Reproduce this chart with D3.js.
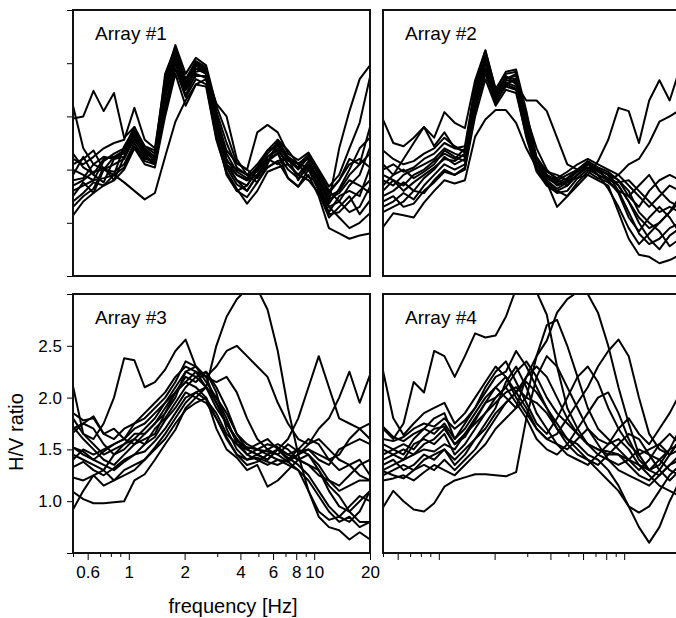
<!DOCTYPE html>
<html><head><meta charset="utf-8">
<script src="https://cdn.jsdelivr.net/npm/d3@7"></script>
<style>
body{margin:0;background:#fff;}
svg{display:block;}
text{font-family:"Liberation Sans",Arial,Helvetica,sans-serif;fill:#000;}
</style>
</head><body>
<svg id="chart" width="676" height="618"></svg>
<script>
// frequencies (Hz) at which the H/V curves are sampled
const freqs = [0.5,0.568,0.645,0.732,0.832,0.944,1.072,1.218,1.383,1.570,1.783,2.025,2.300,2.612,2.966,3.368,3.824,4.343,4.932,5.601,6.360,7.222,8.202,9.314,10.58,12.01,13.64,15.49,17.59,20.0];

const array1 = [
 [1.98,2.00,2.24,2.05,2.22,1.80,1.90,1.72,1.68,2.30,2.58,2.35,2.48,2.45,2.05,1.75,1.52,1.45,1.55,1.68,1.72,1.60,1.50,1.62,1.45,1.30,1.40,1.60,1.55,1.65],
 [2.10,1.70,1.55,1.50,1.62,1.65,1.85,1.70,1.62,2.20,2.62,2.30,2.50,2.42,1.95,1.55,1.40,1.35,1.50,1.62,1.68,1.55,1.45,1.58,1.38,1.20,1.70,2.05,2.35,2.48],
 [1.60,1.55,1.62,1.70,1.75,1.78,2.08,1.78,1.70,2.35,2.67,2.40,2.55,2.48,2.10,1.84,1.56,1.50,1.85,1.92,1.85,1.65,1.59,1.66,1.50,1.34,1.45,1.70,1.94,2.37],
 [1.50,1.45,1.40,1.58,1.65,1.70,1.90,1.65,1.60,2.28,2.55,2.30,2.45,2.42,2.12,2.00,1.60,1.45,1.48,1.62,1.70,1.55,1.45,1.55,1.42,1.25,1.30,1.45,1.55,1.90],
 [1.35,1.40,1.48,1.50,1.55,1.60,1.80,1.62,1.55,2.18,2.60,2.25,2.45,2.40,1.90,1.55,1.45,1.40,1.45,1.52,1.58,1.62,1.40,1.55,1.32,1.15,1.20,1.35,1.45,1.71],
 [1.25,1.38,1.28,1.50,1.48,1.55,1.75,1.60,1.58,2.10,2.50,2.20,2.40,2.36,1.85,1.45,1.30,1.35,1.50,1.58,1.66,1.42,1.34,1.50,1.30,1.10,1.25,1.30,1.25,1.52],
 [1.45,1.62,1.45,1.38,1.60,1.62,1.82,1.66,1.62,2.25,2.62,2.35,2.52,2.46,2.00,1.60,1.45,1.40,1.52,1.65,1.75,1.60,1.52,1.62,1.48,1.30,1.20,1.10,1.15,1.34],
 [1.20,1.28,1.38,1.35,1.45,1.52,1.72,1.58,1.55,2.05,2.45,2.18,2.35,2.30,1.80,1.48,1.32,1.18,1.30,1.48,1.52,1.55,1.45,1.40,1.28,1.05,1.15,1.25,1.08,1.21],
 [1.30,1.35,1.40,1.42,1.45,1.38,1.30,1.22,1.28,1.62,1.95,2.15,2.30,2.35,1.95,1.55,1.40,1.30,1.45,1.58,1.65,1.50,1.42,1.52,1.35,1.15,1.05,0.95,1.00,1.09],
 [1.07,1.20,1.28,1.35,1.40,1.50,1.70,1.55,1.52,2.00,2.40,2.10,2.30,2.28,1.78,1.47,1.30,1.24,1.38,1.52,1.58,1.42,1.34,1.45,1.25,0.95,0.90,0.85,0.88,0.90],
 [1.55,1.60,1.68,1.50,1.45,1.72,1.88,1.72,1.65,2.40,2.65,2.32,2.50,2.45,2.02,1.65,1.48,1.42,1.52,1.68,1.78,1.62,1.55,1.64,1.45,1.28,1.40,1.55,1.60,1.52],
 [1.40,1.42,1.55,1.62,1.60,1.66,1.84,1.68,1.58,2.30,2.58,2.28,2.42,2.44,1.98,1.58,1.50,1.45,1.38,1.55,1.78,1.68,1.55,1.52,1.40,1.22,1.28,1.40,1.35,1.28],
 [1.15,1.25,1.32,1.52,1.40,1.62,1.78,1.64,1.56,2.18,2.52,2.25,2.38,2.38,1.92,1.52,1.36,1.30,1.44,1.60,1.55,1.62,1.55,1.43,1.38,1.08,1.10,1.20,1.30,1.40],
 [1.65,1.52,1.46,1.60,1.62,1.68,1.86,1.68,1.62,2.32,2.60,2.28,2.48,2.40,1.98,1.68,1.56,1.50,1.42,1.56,1.74,1.58,1.56,1.60,1.40,1.18,1.32,1.50,1.70,1.80]
];

const array2 = [
 [1.97,1.75,1.72,1.80,1.90,1.72,1.85,1.70,1.68,2.25,2.60,2.20,2.35,2.40,2.00,1.70,1.50,1.40,1.35,1.45,1.55,1.50,1.45,1.35,1.20,1.05,0.95,1.00,1.10,1.20],
 [1.55,1.45,1.60,1.75,1.90,1.80,2.04,1.94,1.89,2.34,2.62,2.25,2.42,2.44,2.05,1.60,1.45,1.40,1.45,1.50,1.58,1.52,1.48,1.40,1.25,1.15,1.30,1.40,1.45,1.40],
 [0.96,1.09,1.07,1.05,1.19,1.30,1.40,1.37,1.40,1.81,1.97,2.06,2.06,1.94,1.70,1.52,1.35,1.30,1.25,1.35,1.45,1.40,1.35,1.10,0.85,0.70,0.68,0.62,0.65,0.70],
 [1.40,1.35,1.45,1.50,1.55,1.60,1.70,1.65,1.62,2.20,2.55,2.15,2.30,2.35,1.95,1.60,1.48,1.45,1.40,1.42,1.45,1.58,1.78,2.08,2.05,1.75,2.15,2.34,2.15,2.45],
 [1.30,1.40,1.35,1.45,1.50,1.58,1.65,1.60,1.70,2.15,2.50,2.18,2.38,2.30,2.15,2.15,2.05,1.80,1.55,1.50,1.52,1.45,1.40,1.45,1.55,1.60,1.75,1.95,2.00,2.06],
 [1.50,1.55,1.48,1.52,1.60,1.65,1.75,1.70,1.72,2.28,2.58,2.22,2.36,2.38,1.95,1.58,1.42,1.36,1.40,1.48,1.55,1.50,1.45,1.30,1.10,0.90,0.80,0.85,0.95,1.00],
 [1.25,1.30,1.38,1.30,1.42,1.50,1.62,1.55,1.60,2.12,2.45,2.18,2.32,2.28,1.85,1.50,1.38,1.30,1.35,1.45,1.55,1.48,1.42,1.35,1.20,1.00,0.85,0.75,0.88,0.95],
 [1.15,1.20,1.28,1.22,1.35,1.45,1.55,1.50,1.55,2.08,2.40,2.15,2.28,2.25,1.80,1.48,1.35,1.28,1.30,1.42,1.50,1.45,1.40,1.28,1.05,0.92,1.05,1.15,1.05,0.90],
 [1.68,1.60,1.55,1.58,1.65,1.70,1.80,1.72,1.66,2.30,2.62,2.26,2.40,2.42,1.98,1.62,1.48,1.42,1.48,1.55,1.60,1.55,1.50,1.45,1.35,1.25,1.15,1.25,1.35,1.30],
 [1.10,1.15,1.20,1.30,1.28,1.40,1.50,1.45,1.50,2.00,2.35,2.10,2.25,2.22,1.82,1.55,1.40,1.32,1.38,1.50,1.56,1.50,1.40,1.38,1.40,1.30,1.20,1.10,1.15,1.10],
 [1.35,1.45,1.50,1.42,1.48,1.55,1.68,1.62,1.58,2.18,2.52,2.20,2.34,2.32,1.90,1.55,1.44,1.38,1.42,1.50,1.56,1.45,1.32,1.15,0.95,0.80,0.90,1.00,1.10,1.25],
 [1.45,1.40,1.30,1.38,1.45,1.52,1.60,1.58,1.65,2.22,2.55,2.24,2.36,2.35,1.92,1.60,1.45,1.35,1.38,1.45,1.52,1.50,1.46,1.40,1.30,1.10,1.00,0.92,0.78,0.85],
 [1.20,1.25,1.15,1.18,1.30,1.38,1.48,1.45,1.52,2.05,2.42,2.12,2.30,2.26,1.88,1.52,1.38,1.15,1.25,1.38,1.48,1.42,1.38,1.30,1.25,1.35,1.45,1.30,1.20,1.15]
];

const array3 = [
 [1.80,1.65,1.60,1.75,2.00,2.38,2.36,2.10,2.15,2.27,2.45,2.56,2.30,2.20,2.15,2.20,2.05,1.80,1.60,1.50,1.45,1.55,1.48,1.50,1.45,1.40,1.30,1.35,1.40,1.25],
 [1.52,1.45,1.40,1.48,1.55,1.60,1.70,1.75,1.85,1.95,2.05,2.15,2.25,2.10,2.50,2.78,2.95,3.05,3.05,2.85,2.45,1.90,1.45,1.10,0.85,0.75,0.72,0.63,0.70,0.63],
 [1.70,1.75,1.82,1.65,1.70,1.60,1.75,1.85,1.95,2.05,2.20,2.30,2.25,2.20,2.30,2.45,2.50,2.40,2.30,2.20,1.95,1.75,1.60,1.55,1.60,1.50,1.40,1.35,1.25,1.20],
 [1.09,1.02,0.98,0.98,0.99,1.00,1.20,1.26,1.40,1.55,1.69,1.90,2.00,2.10,1.90,1.75,1.60,1.50,1.45,1.40,1.50,1.45,1.40,1.35,1.30,1.10,0.95,0.90,1.00,1.10],
 [1.45,1.40,1.35,1.30,1.45,1.55,1.60,1.70,1.80,1.95,2.10,2.25,2.20,2.10,2.00,1.85,1.65,1.50,1.45,1.40,1.50,1.60,1.80,2.10,2.40,2.10,1.80,1.75,1.70,1.60],
 [2.11,1.65,1.55,1.45,1.50,1.55,1.65,1.65,1.75,1.90,2.05,2.20,2.15,2.25,2.10,1.90,1.65,1.55,1.50,1.45,1.50,1.40,1.45,1.55,1.70,1.80,2.00,2.25,1.95,2.22],
 [1.85,1.78,1.80,1.65,1.60,1.70,1.75,1.80,1.90,2.00,2.15,2.35,2.30,2.20,1.95,1.75,1.60,1.45,1.50,1.55,1.52,1.45,1.50,1.60,1.55,1.40,1.45,1.60,1.70,1.75],
 [1.72,1.60,1.50,1.40,1.35,1.45,1.55,1.60,1.65,1.85,2.00,2.25,2.30,2.15,2.00,1.80,1.55,1.45,1.40,1.35,1.40,1.38,1.30,1.10,0.90,0.82,0.85,0.95,1.05,1.00],
 [1.66,1.75,1.70,1.55,1.45,1.50,1.60,1.55,1.70,1.80,1.95,2.10,2.20,2.25,2.05,1.70,1.50,1.40,1.45,1.50,1.55,1.50,1.40,1.45,1.30,1.15,1.05,0.90,0.80,0.80],
 [1.52,1.48,1.40,1.35,1.30,1.38,1.45,1.55,1.62,1.78,1.90,2.05,2.00,1.95,1.80,1.60,1.45,1.40,1.42,1.38,1.35,1.40,1.50,1.45,1.35,1.20,1.15,1.25,1.35,1.40],
 [1.33,1.38,1.30,1.25,1.32,1.40,1.45,1.48,1.58,1.70,1.85,2.00,2.05,1.98,1.85,1.65,1.55,1.50,1.55,1.60,1.50,1.42,1.35,1.25,1.10,0.95,0.85,0.80,0.90,1.10],
 [1.23,1.20,1.25,1.15,1.20,1.30,1.35,1.40,1.52,1.65,1.80,1.95,2.05,2.10,1.95,1.75,1.58,1.52,1.50,1.48,1.45,1.38,1.45,1.50,1.40,1.35,1.50,1.55,1.60,1.55],
 [0.92,1.10,1.25,1.30,1.20,1.25,1.30,1.40,1.50,1.60,1.75,1.88,1.95,2.00,1.80,1.62,1.45,1.35,1.38,1.45,1.40,1.35,1.30,1.20,1.05,0.90,0.80,0.85,0.75,0.80],
 [1.40,1.50,1.45,1.50,1.55,1.60,1.55,1.65,1.75,1.85,2.05,2.15,2.10,2.00,1.70,1.50,1.42,1.30,1.35,1.14,1.20,1.30,1.40,1.35,1.25,1.20,1.10,1.15,1.20,1.20]
];

const array4 = [
 [1.70,1.60,1.75,2.15,2.05,2.45,2.40,2.20,2.40,2.62,2.58,2.60,2.78,3.05,3.05,3.02,2.80,2.30,1.90,1.70,1.55,1.50,1.45,1.45,1.40,1.35,1.30,1.40,1.50,1.55],
 [1.30,1.35,1.40,1.45,1.50,1.48,1.55,1.50,1.65,1.80,1.95,2.10,2.00,1.90,2.20,2.40,2.55,2.82,2.95,3.02,3.00,2.82,2.50,2.10,1.75,1.45,1.30,1.25,1.35,1.40],
 [1.55,1.50,1.45,1.60,1.70,1.65,1.75,1.60,1.70,1.85,2.00,2.10,2.20,2.00,1.85,1.70,1.60,1.65,1.80,1.95,2.10,2.30,2.45,2.56,2.40,2.00,1.65,1.50,1.45,1.60],
 [0.94,1.10,1.00,0.92,0.90,0.98,1.14,1.20,1.23,1.26,1.26,1.25,1.24,1.28,1.80,2.20,2.40,2.30,2.10,1.90,1.70,1.55,1.40,1.30,1.25,1.20,1.15,1.25,1.35,1.45],
 [1.40,1.45,1.50,1.45,1.55,1.60,1.70,1.55,1.65,1.75,1.85,1.95,2.05,2.10,2.00,1.95,1.85,1.70,1.60,1.50,1.40,1.30,1.20,1.10,0.95,0.75,0.60,0.75,1.00,1.20],
 [1.25,1.30,1.35,1.30,1.40,1.45,1.50,1.40,1.50,1.60,1.70,1.85,1.95,2.05,2.15,2.05,1.90,1.75,1.60,1.55,1.45,1.40,1.30,1.15,0.95,0.89,0.95,1.10,1.25,1.35],
 [2.26,1.80,1.64,1.75,1.85,1.90,1.95,1.75,1.85,2.00,2.15,2.30,2.20,2.05,1.90,1.70,1.60,1.55,1.50,1.60,1.70,1.60,1.55,1.70,1.80,1.65,1.55,1.70,1.85,2.04],
 [1.72,1.62,1.58,1.65,1.70,1.80,1.85,1.60,1.75,1.90,2.10,2.25,2.35,2.15,1.95,1.75,1.65,1.80,2.00,2.20,2.30,2.15,1.90,1.70,1.55,1.45,1.50,1.55,1.45,1.59],
 [1.50,1.45,1.40,1.55,1.60,1.55,1.65,1.45,1.55,1.70,1.85,2.00,2.10,2.25,2.35,2.20,2.00,1.85,1.75,1.65,1.55,1.45,1.40,1.35,1.40,1.50,1.45,1.40,1.30,1.25],
 [1.35,1.40,1.30,1.35,1.45,1.40,1.50,1.35,1.45,1.60,1.75,1.90,2.15,2.30,2.10,1.85,1.70,1.55,1.45,1.40,1.35,1.45,1.55,1.60,1.50,1.35,1.25,1.15,1.10,1.05],
 [1.60,1.58,1.62,1.70,1.75,1.72,1.80,1.70,1.78,1.90,2.05,2.20,2.25,2.45,2.30,2.10,1.90,1.70,1.55,1.45,1.40,1.35,1.45,1.55,1.65,1.60,1.45,1.30,1.20,1.30],
 [1.29,1.25,1.22,1.30,1.35,1.30,1.40,1.30,1.40,1.50,1.65,1.80,1.95,2.05,2.20,2.30,2.20,2.00,1.80,1.65,1.55,1.50,1.48,1.45,1.35,1.25,1.20,1.30,1.45,1.50],
 [1.45,1.50,1.55,1.50,1.62,1.70,1.72,1.55,1.62,1.78,1.95,2.00,2.10,1.95,1.80,1.60,1.50,1.45,1.55,1.70,1.85,2.00,2.05,1.85,1.60,1.40,1.30,1.35,1.50,1.70],
 [1.20,1.22,1.25,1.20,1.28,1.35,1.30,1.25,1.35,1.45,1.55,1.70,1.80,1.90,2.00,2.40,2.70,2.75,2.50,2.20,1.90,1.70,1.60,1.50,1.40,1.30,1.40,1.55,1.65,1.55]
];

const panelTitles = ["Array #1","Array #2","Array #3","Array #4"];
const yTickValues = [0.5,1.0,1.5,2.0,2.5,3.0];
const yTickLabels = ["","1.0","1.5","2.0","2.5",""];
const xMajorTicks = [0.6,1,2,4,6,8,10,20];
const xMinorTicks = [0.5,0.7,0.8,0.9,3,5,7,9];
const xTickLabels = ["0.6","1","2","4","6","8","10","20"];
const xDomain = [0.5,20];
const yDomain = [0.5,3.0];

const svg = d3.select("#chart");
const W = 297;
const panels = [
  {data: array1, title: panelTitles[0], left: 73,  top: 10,  h: 266, yTicks: true,  yLabels: false, xTicks: false, xLabels: false},
  {data: array2, title: panelTitles[1], left: 383, top: 10,  h: 266, yTicks: false, yLabels: false, xTicks: false, xLabels: false},
  {data: array3, title: panelTitles[2], left: 73,  top: 294, h: 259, yTicks: true,  yLabels: true,  xTicks: true,  xLabels: true},
  {data: array4, title: panelTitles[3], left: 383, top: 294, h: 259, yTicks: false, yLabels: false, xTicks: true,  xLabels: false}
];

const x = d3.scaleLog().domain(xDomain).range([0, W]);

panels.forEach((p, k) => {
  const y = d3.scaleLinear().domain(yDomain).range([p.h, 0]);
  const g = svg.append("g").attr("transform", `translate(${p.left},${p.top})`);
  const clipId = "clip" + k;
  g.append("clipPath").attr("id", clipId).append("rect")
    .attr("x", 0).attr("y", 0).attr("width", W).attr("height", p.h);

  const line = d3.line().x((d, i) => x(freqs[i])).y(d => y(d));
  g.append("g").attr("clip-path", `url(#${clipId})`)
    .selectAll("path").data(p.data).join("path")
    .attr("d", line)
    .attr("fill", "none")
    .attr("stroke", "#000")
    .attr("stroke-width", 2)
    .attr("stroke-linejoin", "round");

  if (p.yTicks) {
    const ax = g.append("g").call(
      d3.axisLeft(y).tickValues(yTickValues).tickSize(6).tickPadding(5)
        .tickFormat((d, i) => p.yLabels ? yTickLabels[i] : ""));
    ax.select(".domain").remove();
    ax.selectAll("line").attr("stroke", "#000").attr("stroke-width", 1);
    ax.selectAll("text").attr("font-size", 17).attr("font-family", "Liberation Sans, Arial, sans-serif");
  }
  if (p.xTicks) {
    const axMaj = g.append("g").attr("transform", `translate(0,${p.h})`).call(
      d3.axisBottom(x).tickValues(xMajorTicks).tickSize(7).tickPadding(6)
        .tickFormat((d, i) => p.xLabels ? xTickLabels[i] : ""));
    axMaj.select(".domain").remove();
    axMaj.selectAll("line").attr("stroke", "#000").attr("stroke-width", 1);
    axMaj.selectAll("text").attr("font-size", 17).attr("font-family", "Liberation Sans, Arial, sans-serif");
    const axMin = g.append("g").attr("transform", `translate(0,${p.h})`).call(
      d3.axisBottom(x).tickValues(xMinorTicks).tickSize(4).tickFormat(() => ""));
    axMin.select(".domain").remove();
    axMin.selectAll("line").attr("stroke", "#000").attr("stroke-width", 1);
  }

  g.append("rect").attr("x", 0).attr("y", 0).attr("width", W).attr("height", p.h)
    .attr("fill", "none").attr("stroke", "#111").attr("stroke-width", 2);

  g.append("text").attr("x", 22).attr("y", 30).attr("font-size", 19).text(p.title);
});

svg.append("text").attr("transform", "translate(23,432) rotate(-90)")
  .attr("text-anchor", "middle").attr("font-size", 20).text("H/V ratio");
svg.append("text").attr("x", 233).attr("y", 613)
  .attr("text-anchor", "middle").attr("font-size", 20).text("frequency [Hz]");
</script>
</body></html>
